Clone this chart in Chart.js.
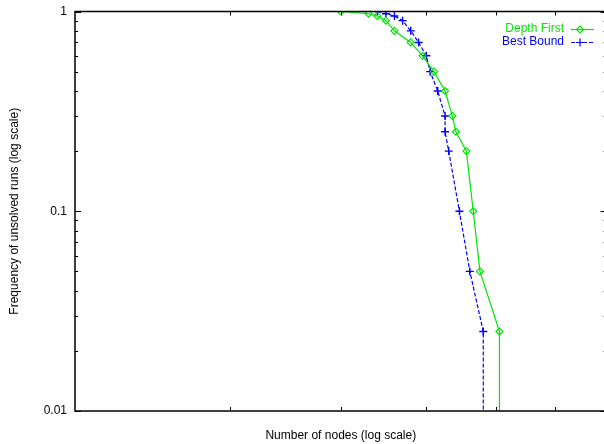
<!DOCTYPE html>
<html>
<head>
<meta charset="utf-8">
<script src="https://cdn.jsdelivr.net/npm/chart.js@4.4.1/dist/chart.umd.min.js"></script>
<style>
  html, body { margin: 0; padding: 0; background: #fff; overflow: hidden; }
  #wrap { width: 612px; height: 444px; }
</style>
</head>
<body>
<div id="wrap"><canvas id="c" width="612" height="444"></canvas></div>
<script>
// ---- data ----
const seriesNames = ['Depth First', 'Best Bound'];
// Number of nodes (x, log scale) and frequency of unsolved runs (y, log scale).
// The last point of each series (frequency 0.001, below the 0.01 floor) is the drop to "no unsolved runs".
const depthFirstNodes = [4000, 4300, 4400, 4500, 4600, 4800, 4950, 5100, 5250, 5350, 5400, 5550, 5650, 5750, 6050, 6050];
const depthFirstFreq  = [1, 0.975, 0.95, 0.9, 0.8, 0.7, 0.6, 0.5, 0.4, 0.3, 0.25, 0.2, 0.1, 0.05, 0.025, 0.001];
const bestBoundNodes  = [4400, 4500, 4600, 4700, 4800, 4900, 5000, 5050, 5150, 5250, 5250, 5300, 5450, 5600, 5800, 5800];
const bestBoundFreq   = [1, 0.975, 0.95, 0.9, 0.8, 0.7, 0.6, 0.5, 0.4, 0.3, 0.25, 0.2, 0.1, 0.05, 0.025, 0.001];
const yTickValues = [0.01, 0.1, 1];
const yTickLabels = ['0.01', '0.1', '1'];
const xTickValues = [3000, 4000, 5000, 6000, 7000];
const xRange = [2000, 8000];
const yRange = [0.01, 1];

const GREEN = '#00e600';
const BLUE = '#0000ff';
const FONT = { family: "'Liberation Sans', Arial, Helvetica, sans-serif", size: 12, lineHeight: 1.2 };

function toPoints(xs, ys) { return xs.map((x, i) => ({ x: x, y: ys[i] })); }

function drawDiamond(ctx, x, y, r) {
  ctx.beginPath();
  ctx.moveTo(x, y - r); ctx.lineTo(x + r, y); ctx.lineTo(x, y + r); ctx.lineTo(x - r, y); ctx.closePath();
  ctx.stroke();
}
function drawCross(ctx, x, y, r) {
  ctx.beginPath();
  ctx.moveTo(x - r, y); ctx.lineTo(x + r, y); ctx.moveTo(x, y - r); ctx.lineTo(x, y + r);
  ctx.stroke();
}

const framePlugin = {
  id: 'frame',
  afterDraw(chart) {
    const { ctx, chartArea, scales } = chart;
    const { left, right, top, bottom } = chartArea;
    ctx.save();
    ctx.strokeStyle = '#000';
    ctx.lineWidth = 1.5;
    ctx.strokeRect(left, top, right - left, bottom - top);
    ctx.lineWidth = 1;
    const seg = (x1, y1, x2, y2) => { ctx.beginPath(); ctx.moveTo(x1, y1); ctx.lineTo(x2, y2); ctx.stroke(); };
    // y ticks (major + minor), inward on left and right
    for (let e = -2; e <= 0; e++) {
      for (let k = 1; k <= 9; k++) {
        const v = k * Math.pow(10, e);
        if (v > yRange[1] * 1.0001) continue;
        const py = Math.round(scales.y.getPixelForValue(v)) + 0.5;
        const len = k === 1 ? 6 : 3;
        seg(left, py, left + len, py);
        seg(right, py, right - len, py);
      }
    }
    // x ticks, inward on bottom and top
    xTickValues.forEach(v => {
      const px = Math.round(scales.x.getPixelForValue(v)) + 0.5;
      seg(px, bottom, px, bottom - 4);
      seg(px, top, px, top + 4);
    });
    // legend (gnuplot style: text, then line sample with marker)
    ctx.font = '12px ' + FONT.family;
    ctx.textAlign = 'right';
    ctx.textBaseline = 'middle';
    const entries = [
      { name: seriesNames[0], color: GREEN, dash: [], y: 29, marker: 'diamond' },
      { name: seriesNames[1], color: BLUE, dash: [4, 2], y: 42, marker: 'cross' }
    ];
    entries.forEach(en => {
      ctx.fillStyle = en.color;
      ctx.fillText(en.name, 564, en.y);
      ctx.strokeStyle = en.color;
      ctx.lineWidth = 1.2;
      ctx.setLineDash(en.dash);
      seg(571, en.y + 0.5, 594, en.y + 0.5);
      ctx.setLineDash([]);
      if (en.marker === 'diamond') drawDiamond(ctx, 580, en.y + 0.5, 3.5);
      else drawCross(ctx, 580, en.y + 0.5, 4);
    });
    ctx.restore();
  }
};

new Chart(document.getElementById('c'), {
  type: 'line',
  data: {
    datasets: [
      {
        label: seriesNames[0],
        data: toPoints(depthFirstNodes, depthFirstFreq),
        borderColor: GREEN,
        borderWidth: 1.2,
        pointStyle: 'rectRot',
        pointRadius: 3.5,
        pointBorderColor: GREEN,
        pointBackgroundColor: 'rgba(0,0,0,0)',
        pointBorderWidth: 1.2,
        tension: 0,
        fill: false
      },
      {
        label: seriesNames[1],
        data: toPoints(bestBoundNodes, bestBoundFreq),
        borderColor: BLUE,
        borderWidth: 1.2,
        borderDash: [4, 2],
        pointStyle: 'cross',
        pointRadius: 4,
        pointBorderColor: BLUE,
        pointBorderWidth: 1.4,
        tension: 0,
        fill: false
      }
    ]
  },
  options: {
    responsive: false,
    animation: false,
    devicePixelRatio: 1,
    layout: { padding: { top: 11.5, right: 5.2, left: 0, bottom: 0 } },
    plugins: { legend: { display: false }, tooltip: { enabled: false } },
    scales: {
      x: {
        type: 'logarithmic',
        min: xRange[0],
        max: xRange[1],
        grid: { display: false, drawTicks: false },
        border: { display: false },
        ticks: { display: false },
        title: { display: true, text: 'Number of nodes (log scale)', font: FONT, color: '#000', padding: { top: 18.4, bottom: 1.4 } },
        afterFit(s) { s.height = 33; s.paddingLeft = 0; s.paddingRight = 0; }
      },
      y: {
        type: 'logarithmic',
        min: yRange[0],
        max: yRange[1],
        grid: { display: false, drawTicks: false },
        border: { display: false },
        ticks: {
          font: FONT, color: '#000', padding: 8, autoSkip: false,
          callback: (v) => { const i = yTickValues.indexOf(v); return i >= 0 ? yTickLabels[i] : ''; }
        },
        afterBuildTicks(s) { s.ticks = yTickValues.map(v => ({ value: v })); },
        title: { display: true, text: 'Frequency of unsolved runs (log scale)', font: FONT, color: '#000', padding: { top: 7.8, bottom: 0 } },
        afterFit(s) { s.width = 75; s.paddingTop = 0; s.paddingBottom = 0; }
      }
    }
  },
  plugins: [framePlugin]
});
</script>
</body>
</html>
